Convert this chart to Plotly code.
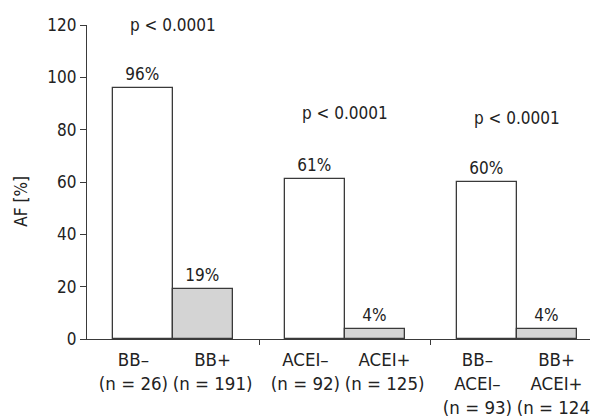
import plotly.graph_objects as go

# ---- data ----
categories = ["BB–<br>(n = 26)", "BB+<br>(n = 191)",
              "ACEI–<br>(n = 92)", "ACEI+<br>(n = 125)",
              "BB–<br>ACEI–<br>(n = 93)", "BB+<br>ACEI+<br>(n = 124)"]
af_values = [96, 19, 61, 4, 60, 4]
bar_labels = ["96%", "19%", "61%", "4%", "60%", "4%"]
group_index = [0, 0, 1, 1, 2, 2]
side = [-1, 1, -1, 1, -1, 1]
p_labels = ["p < 0.0001", "p < 0.0001", "p < 0.0001"]
p_heights = [120, 86.5, 84.5]
y_ticks = [0, 20, 40, 60, 80, 100, 120]

FONT = "DejaVu Sans Condensed, Liberation Sans Narrow, sans-serif"
LINE = "#3a3a3a"
TXT = "#222"
FS = 17
bar_w = 0.349
label_off = 0.23
x_pos = [g + 0.5 + s * bar_w / 2 for g, s in zip(group_index, side)]
label_pos = [g + 0.5 + s * label_off for g, s in zip(group_index, side)]
fills = ["white" if s < 0 else "#d4d4d4" for s in side]

fig = go.Figure()
fig.add_trace(go.Bar(
    x=x_pos, y=af_values, width=bar_w,
    marker=dict(color=fills, line=dict(color=LINE, width=1.3)),
    text=bar_labels, textposition="outside", cliponaxis=False,
    textfont=dict(family=FONT, size=FS, color=TXT),
    showlegend=False, hoverinfo="skip",
))

for g, (lab, h) in enumerate(zip(p_labels, p_heights)):
    fig.add_annotation(x=g + 0.5, y=h, text=lab, showarrow=False,
                       xref="x", yref="y", yanchor="middle",
                       font=dict(family=FONT, size=FS, color=TXT))

fig.add_annotation(x=-0.153, y=0.44, xref="paper", yref="paper",
                   text="AF [%]", textangle=-90, showarrow=False,
                   font=dict(family=FONT, size=FS, color=TXT))

xr = [0, 2.971]
fig.update_layout(
    width=590, height=411,
    margin=dict(l=79, r=0, t=17, b=80),
    plot_bgcolor="white", paper_bgcolor="white",
    bargap=0,
    xaxis=dict(range=xr, tickvals=label_pos, ticktext=categories,
               tickangle=0, automargin=False, ticklabeloverflow="allow",
               ticklabelstandoff=4,
               ticks="", showline=True, linecolor=LINE, linewidth=1.3,
               showgrid=False, zeroline=False,
               tickfont=dict(family=FONT, size=18.5, color=TXT)),
    xaxis2=dict(range=xr, overlaying="x", side="bottom", anchor="y",
                tickvals=[1, 2], ticktext=["", ""], ticks="outside",
                ticklen=5, tickcolor=LINE, tickwidth=1.3, automargin=False,
                showgrid=False, zeroline=False, showline=False),
    yaxis=dict(range=[0, 120], tickvals=y_ticks, ticks="outside",
               ticklen=6, tickcolor=LINE, tickwidth=1.3, automargin=False,
               showline=True, linecolor=LINE, linewidth=1.3,
               showgrid=False, zeroline=False,
               tickfont=dict(family=FONT, size=FS, color=TXT)),
)
fig.add_trace(go.Scatter(x=[None], y=[None], xaxis="x2", showlegend=False))

fig.write_html("out.html")
